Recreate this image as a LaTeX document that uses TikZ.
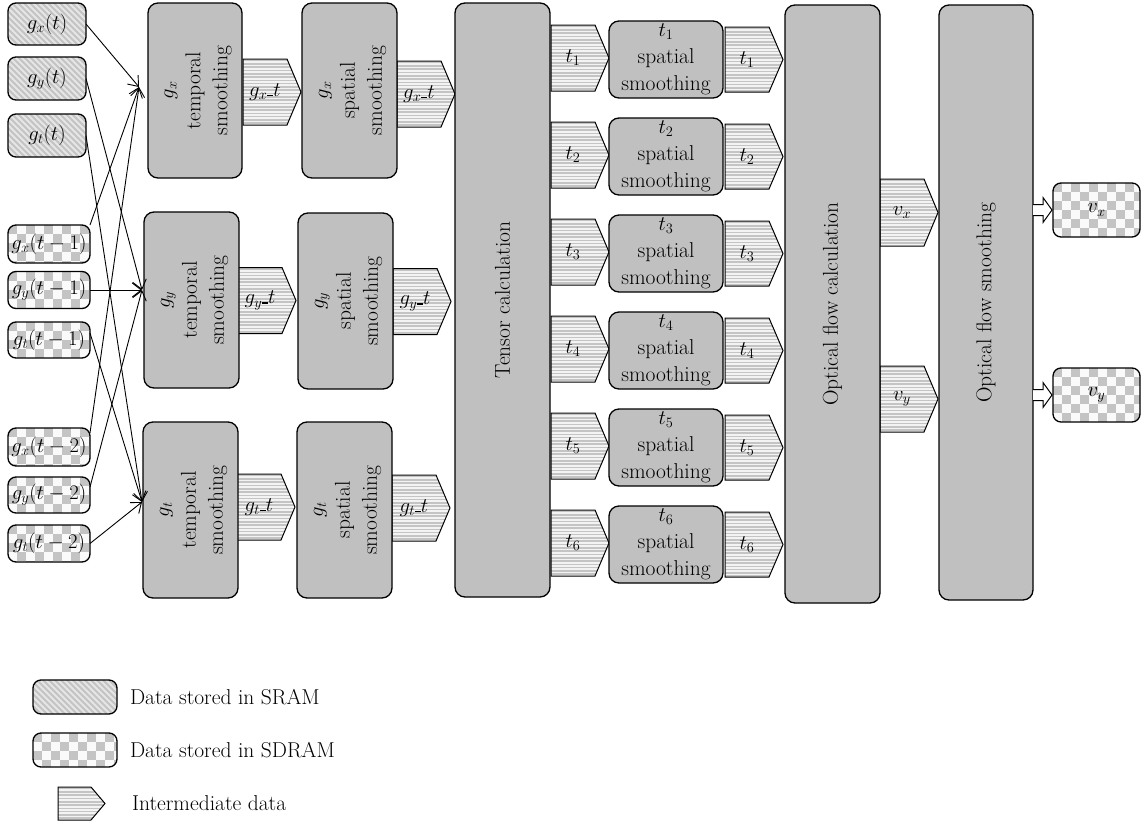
\documentclass[tikz,border=0pt]{standalone}
\usepackage{fontspec}
\usepackage{graphicx}
\usetikzlibrary{arrows.meta,calc,backgrounds}

\definecolor{boxgray}{HTML}{C0C0C0}
\definecolor{hatchback}{HTML}{C4C4C4}
\definecolor{hatchline}{HTML}{E6E6E6}
\definecolor{checkdark}{HTML}{C4C4C4}
\definecolor{checklight}{HTML}{FAFAFA}
\definecolor{stripeback}{HTML}{F3F3F3}
\definecolor{stripeline}{HTML}{C4C4C4}

% rotated multi-line label for the tall processing blocks
\newcommand{\vlabel}[1]{\rotatebox{90}{\begin{tabular}{@{}c@{}}#1\end{tabular}}}
% short underscore used in the intermediate data names
\newcommand{\usc}{\rule{6pt}{1.6pt}}

% intermediate data: a named body node plus a pentagon drawn behind it
% #1 extra options, #2 name, #3 body centre, #4 body height, #5 label
\newcommand{\interdata}[5][]{%
  \node[interbody, minimum height=#4, #1] (#2) at #3 {#5};
  \begin{scope}[on background layer]
    \path[interpath] (#2.north west) -- (#2.north east) -- ($(#2.east)+(14,0)$)
      -- (#2.south east) -- (#2.south west) -- cycle;
  \end{scope}}

\begin{document}
\begin{tikzpicture}[x=1pt, y=-1pt,
  font=\fontsize{21.5}{27}\selectfont,
  every node/.style={inner sep=0pt, outer sep=0pt},
  proc/.style={draw, line width=1.3pt, fill=boxgray, rounded corners=10pt, align=center},
  sram/.style={draw, line width=1.3pt, rounded corners=8pt, fill=hatchback,
    path picture={
      \foreach \k in {-70,-64,...,100}
        \draw[hatchline, line width=2pt, sharp corners]
          ($(path picture bounding box.north west)+(\k,-5)$) -- ++(70,70);}},
  sdram/.style={draw, line width=1.3pt, rounded corners=8pt, fill=checklight,
    path picture={
      \foreach \cx in {0,18,...,90}
        \foreach \cy in {0,18,...,54} {
          \fill[checkdark, sharp corners] ($(path picture bounding box.north west)+(\cx,\cy)$) rectangle ++(9,9);
          \fill[checkdark, sharp corners] ($(path picture bounding box.north west)+(\cx+9,\cy+9)$) rectangle ++(9,9);
        }}},
  interbody/.style={minimum width=44pt},
  interpath/.style={draw, line width=1pt, fill=stripeback,
    path picture={
      \foreach \k in {1.5,4.8,...,70}
        \draw[stripeline, line width=1.6pt]
          ($(path picture bounding box.north west)+(-2,\k)$) -- ++(80,0);}},
  conn/.style={line width=0.9pt, -{Straight Barb[length=9pt,width=14pt]}},
  hollow/.style={line width=1pt, fill=white}
]
\useasboundingbox (0,0) rectangle (1141,822);

% ---- input data
\node[sram, minimum width=78pt, minimum height=42pt] (ix0) at (47,24)    {$g_x(t)$};
\node[sram, minimum width=78pt, minimum height=43pt] (iy0) at (47,78.5)  {$g_y(t)$};
\node[sram, minimum width=78pt, minimum height=43pt] (it0) at (47,135.5) {$g_t(t)$};
\node[sdram, minimum width=82pt, minimum height=38pt] (ix1) at (49,244)   {$g_x(t-1)$};
\node[sdram, minimum width=82pt, minimum height=37pt] (iy1) at (49,290)   {$g_y(t-1)$};
\node[sdram, minimum width=82pt, minimum height=36pt] (it1) at (49,340)   {$g_t(t-1)$};
\node[sdram, minimum width=82pt, minimum height=38pt] (ix2) at (49,447)   {$g_x(t-2)$};
\node[sdram, minimum width=82pt, minimum height=36pt] (iy2) at (49,495)   {$g_y(t-2)$};
\node[sdram, minimum width=82pt, minimum height=37pt] (it2) at (49,543.5) {$g_t(t-2)$};

% ---- temporal smoothing
\node[proc, minimum width=94pt, minimum height=175pt] (tx) at (195,90.5)  {\vlabel{$g_x$\\temporal\\smoothing}};
\node[proc, minimum width=95pt, minimum height=176pt] (ty) at (191.5,300) {\vlabel{$g_y$\\temporal\\smoothing}};
\node[proc, minimum width=95pt, minimum height=176pt] (tt) at (190.5,510) {\vlabel{$g_t$\\temporal\\smoothing}};

\interdata{ax1}{(265,92)}{66pt}{$g_x\usc t$}
\interdata{ay1}{(260,300.5)}{66pt}{$g_y\usc t$}
\interdata{at1}{(259,507)}{66pt}{$g_t\usc t$}

% ---- spatial smoothing of gradients
\node[proc, minimum width=95pt, minimum height=175pt] (sx) at (349.5,90.5) {\vlabel{$g_x$\\spatial\\smoothing}};
\node[proc, minimum width=95pt, minimum height=176pt] (sy) at (345.5,301) {\vlabel{$g_y$\\spatial\\smoothing}};
\node[proc, minimum width=95pt, minimum height=176pt] (st) at (344.5,510) {\vlabel{$g_t$\\spatial\\smoothing}};

\interdata{ax2}{(419,94)}{66pt}{$g_x\usc t$}
\interdata{ay2}{(415,301.5)}{66pt}{$g_y\usc t$}
\interdata{at2}{(414,508)}{66pt}{$g_t\usc t$}

% ---- tensor calculation
\node[proc, minimum width=95pt, minimum height=594pt] (tens) at (502.5,300) {\rotatebox{90}{Tensor calculation}};

% ---- tensor components and their spatial smoothing
\foreach \i in {1,...,6} {
  \pgfmathsetmacro\yl{58+97*(\i-1)}
  \pgfmathsetmacro\yr{59.5+97*(\i-1)}
  \interdata{tin\i}{(573,\yl)}{66pt}{$t_{\i}$}
  \node[proc, minimum width=114pt, minimum height=77pt] (tsm\i) at (666,\yr) {$t_{\i}$\\spatial\\smoothing};
  \interdata{tout\i}{(747,\yr)}{65pt}{$t_{\i}$}
}

% ---- optical flow
\node[proc, minimum width=95pt, minimum height=598pt] (ofc) at (832.5,304) {\rotatebox{90}{Optical flow calculation}};
\interdata{avx}{(902,212.5)}{67pt}{$v_x$}
\interdata{avy}{(902,399)}{66pt}{$v_y$}
\node[proc, minimum width=94pt, minimum height=595pt] (ofs) at (986,302.5) {\rotatebox{90}{Optical flow smoothing}};

\node[sdram, minimum width=87pt, minimum height=54pt] (ovx) at (1096.5,210) {$v_x$};
\node[sdram, minimum width=87pt, minimum height=54pt] (ovy) at (1096.5,395) {$v_y$};

% output block arrows
\foreach \o in {ovx,ovy} {
  \draw[hollow]
    ($(ofs.east |- \o.west)+(0,-5.5)$) -- ($(\o.west)+(-10,-5.5)$) -- ($(\o.west)+(-10,-12.5)$)
    -- ($(\o.west)+(-1,0)$) -- ($(\o.west)+(-10,12.5)$) -- ($(\o.west)+(-10,5.5)$)
    -- ($(ofs.east |- \o.west)+(0,5.5)$);
}

% ---- connections from the inputs to the temporal filters
\coordinate (ctx) at ($(tx.west)+(-9,-3.5)$);
\coordinate (cty) at ($(ty.west)+(-2,-10)$);
\coordinate (ctt) at ($(tt.west)+(-1,-8)$);

\draw[conn] (ix0.east) -- (ctx);
\draw[conn] (ix1.north east) -- (ctx);
\draw[conn] ([yshift=14pt]ix2.east) -- (ctx);
\draw[conn] (iy0.east) -- (cty);
\draw[conn] (iy1.east) -- (cty);
\draw[conn] ([yshift=8pt]iy2.east) -- (cty);
\draw[conn] (it0.east) -- (ctt);
\draw[conn] ([yshift=7pt]it1.east) -- (ctt);
\draw[conn] (it2.east) -- (ctt);

% ---- legend
\node[sram, minimum width=84pt, minimum height=34pt] (lsram) at (75,697) {};
\node[anchor=west] (lsramtxt) at (130,697) {Data stored in SRAM};
\node[sdram, minimum width=84pt, minimum height=34pt] (lsdram) at (75,750) {};
\node[anchor=west] (lsdramtxt) at (130,750) {Data stored in SDRAM};
\interdata[minimum width=33pt]{linter}{(74.5,803.5)}{33pt}{}
\node[anchor=west] (lintertxt) at (132,803.5) {Intermediate data};
\end{tikzpicture}
\end{document}
